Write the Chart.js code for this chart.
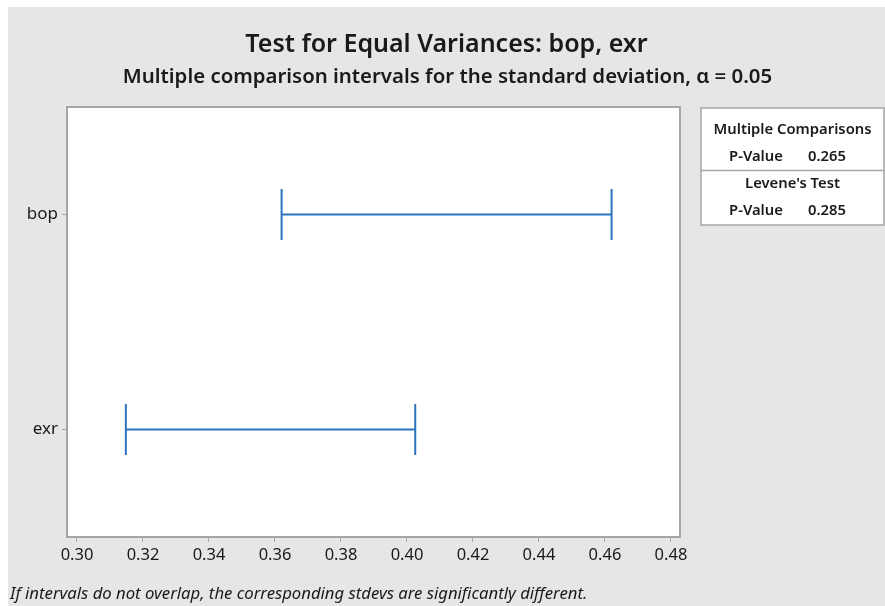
<!DOCTYPE html>
<html>
<head>
<meta charset="utf-8">
<script src="https://cdn.jsdelivr.net/npm/chart.js@4/dist/chart.umd.min.js"></script>
<style>
  html, body { margin: 0; padding: 0; background: #ffffff; }
  #panel { position: absolute; left: 8px; top: 7px; width: 877px; height: 599px; background: #e6e6e6; }
  canvas { display: block; }
</style>
</head>
<body>
<div id="panel"><canvas id="c" width="877" height="599"></canvas></div>
<script>
// ---- data ----
const categories = ['bop', 'exr'];
const lowerCI = [0.362, 0.3148];
const upperCI = [0.462, 0.4025];
const xTicks = [0.30, 0.32, 0.34, 0.36, 0.38, 0.40, 0.42, 0.44, 0.46, 0.48];
const titleText = 'Test for Equal Variances: bop, exr';
const subtitleText = 'Multiple comparison intervals for the standard deviation, \u03b1 = 0.05';
const footnoteText = 'If intervals do not overlap, the corresponding stdevs are significantly different.';
const statsRows = [
  { header: 'Multiple Comparisons', label: 'P-Value', value: '0.265' },
  { header: "Levene's Test", label: 'P-Value', value: '0.285' }
];

const FONT = "'Noto Sans', 'Open Sans', sans-serif";
const LINE = '#2d72bd';
const BORDER = '#a6a6a6';
const TEXT = '#1a1a1a';

const datasets = categories.map((cat, i) => ({
  label: cat,
  data: [{ x: lowerCI[i], y: cat }, { x: upperCI[i], y: cat }],
  borderColor: LINE,
  borderWidth: 2,
  pointStyle: 'line',
  rotation: 90,
  pointRadius: 25.5,
  pointBorderWidth: 2,
  pointBorderColor: LINE,
  pointBackgroundColor: LINE,
  tension: 0,
  fill: false
}));

const framePlugin = {
  id: 'frame',
  beforeDraw(chart) {
    const { ctx, chartArea: a } = chart;
    ctx.save();
    ctx.fillStyle = '#ffffff';
    ctx.fillRect(a.left, a.top, a.right - a.left, a.bottom - a.top);
    ctx.restore();
  },
  afterDraw(chart) {
    const { ctx, chartArea: a, width } = chart;
    ctx.save();
    ctx.strokeStyle = BORDER;
    ctx.lineWidth = 2;
    ctx.strokeRect(a.left, a.top, a.right - a.left, a.bottom - a.top);

    // title + subtitle
    ctx.fillStyle = TEXT;
    ctx.textAlign = 'center';
    ctx.textBaseline = 'middle';
    ctx.font = "600 25px " + FONT;
    ctx.fillText(titleText, width / 2, 38);
    ctx.font = "600 20.4px " + FONT;
    ctx.fillText(subtitleText, width / 2 + 1, 70);

    // stats box
    const bx = 693, by = 101, bw = 183, bh = 117;
    ctx.fillStyle = '#ffffff';
    ctx.fillRect(bx, by, bw, bh);
    ctx.lineWidth = 1.5;
    ctx.strokeStyle = BORDER;
    ctx.strokeRect(bx, by, bw, bh);
    ctx.beginPath();
    ctx.moveTo(bx, 163.5);
    ctx.lineTo(bx + bw, 163.5);
    ctx.stroke();

    ctx.fillStyle = TEXT;
    ctx.textBaseline = 'middle';
    ctx.font = "600 14.8px " + FONT;
    statsRows.forEach((r, i) => {
      const y0 = 123 + i * 54;
      ctx.textAlign = 'center';
      ctx.fillText(r.header, bx + bw / 2, y0);
      ctx.fillText(r.label, 748, y0 + 27);
      ctx.fillText(r.value, 819, y0 + 27);
    });

    // footnote
    ctx.font = "italic 16.7px " + FONT;
    ctx.textAlign = 'left';
    ctx.fillStyle = TEXT;
    ctx.fillText(footnoteText, 2, 587);
    ctx.restore();
  }
};

new Chart(document.getElementById('c'), {
  type: 'line',
  data: { datasets },
  plugins: [framePlugin],
  options: {
    responsive: false,
    animation: false,
    events: [],
    layout: { padding: { left: 0, right: 205, top: 100, bottom: 0 } },
    plugins: {
      legend: { display: false },
      tooltip: { enabled: false },
      title: { display: false },
      subtitle: { display: false }
    },
    scales: {
      x: {
        type: 'linear',
        min: 0.29697,
        max: 0.48273,
        afterBuildTicks(s) { s.ticks = xTicks.map(v => ({ value: v })); },
        afterFit(s) { s.height = 69; },
        ticks: {
          callback: v => Number(v).toFixed(2),
          color: TEXT,
          font: { family: FONT, size: 16.5 },
          padding: 3,
          maxRotation: 0,
          autoSkip: false
        },
        grid: { display: true, drawOnChartArea: false, drawTicks: true, tickLength: 5, color: BORDER, lineWidth: 1 },
        border: { display: true, color: BORDER, width: 2 }
      },
      y: {
        type: 'category',
        labels: categories,
        offset: true,
        afterFit(s) { s.width = 59; },
        ticks: {
          color: TEXT,
          font: { family: FONT, size: 17 },
          padding: 4
        },
        grid: { display: true, drawOnChartArea: false, drawTicks: true, tickLength: 5, color: BORDER, lineWidth: 1, offset: false },
        border: { display: true, color: BORDER, width: 2 }
      }
    }
  }
});
</script>
</body>
</html>
